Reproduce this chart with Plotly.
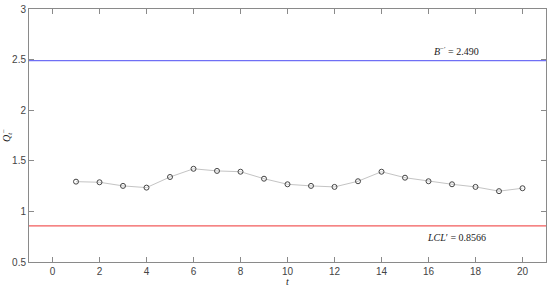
import plotly.graph_objects as go

t = list(range(1, 21))
q_t = [1.294, 1.288, 1.252, 1.235, 1.340, 1.421, 1.400, 1.392, 1.323, 1.268,
       1.252, 1.242, 1.298, 1.392, 1.333, 1.298, 1.268, 1.242, 1.200, 1.229]
upper_limit = 2.490
lower_limit = 0.8566
x_ticks = list(range(0, 21, 2))
y_ticks = [0.5, 1, 1.5, 2, 2.5, 3]

fig = go.Figure()

# control limits
fig.add_trace(go.Scatter(x=[-1, 21], y=[upper_limit, upper_limit], mode="lines",
                         line=dict(color="#6f6ff5", width=1.3), hoverinfo="skip"))
fig.add_trace(go.Scatter(x=[-1, 21], y=[lower_limit, lower_limit], mode="lines",
                         line=dict(color="#f25b5b", width=1.3), hoverinfo="skip"))

# statistic
fig.add_trace(go.Scatter(x=t, y=q_t, mode="lines+markers",
                         line=dict(color="#c4c4c4", width=1),
                         marker=dict(symbol="circle-open", size=5,
                                     color="#444444", line=dict(width=1))))

serif = dict(family="Liberation Serif, DejaVu Serif, serif", size=10, color="#222222")
fig.add_annotation(x=17.2, y=upper_limit, yshift=10, showarrow=False, font=serif,
                   text="<i>B</i><sup>−′</sup> = 2.490")
fig.add_annotation(x=17.2, y=lower_limit, yshift=-12, showarrow=False, font=serif,
                   text="<i>LCL</i>′ = 0.8566")

axis_style = dict(showline=True, linecolor="#8a8a8a", linewidth=1, mirror="ticks",
                  ticks="inside", ticklen=5, tickcolor="#8a8a8a", showgrid=False,
                  zeroline=False, tickfont=dict(family="Liberation Sans, Arial, sans-serif",
                                                size=10, color="#444444"))

fig.update_xaxes(range=[-1, 21], tickvals=x_ticks, **axis_style,
                 title=dict(text="<i>t</i>", font=serif, standoff=0))
fig.update_yaxes(range=[0.5, 3], tickvals=y_ticks, **axis_style,
                 title=dict(text="<i>Q</i><sub><i>t</i></sub><sup>−</sup>", font=serif, standoff=2))

fig.update_layout(width=550, height=287, showlegend=False,
                  plot_bgcolor="white", paper_bgcolor="white",
                  margin=dict(l=28, r=3, t=6, b=25))

# page body has a default margin that shifts the figure
fig.write_html("out.html", config={"displayModeBar": False},
               post_script="document.body.style.margin='0';")
